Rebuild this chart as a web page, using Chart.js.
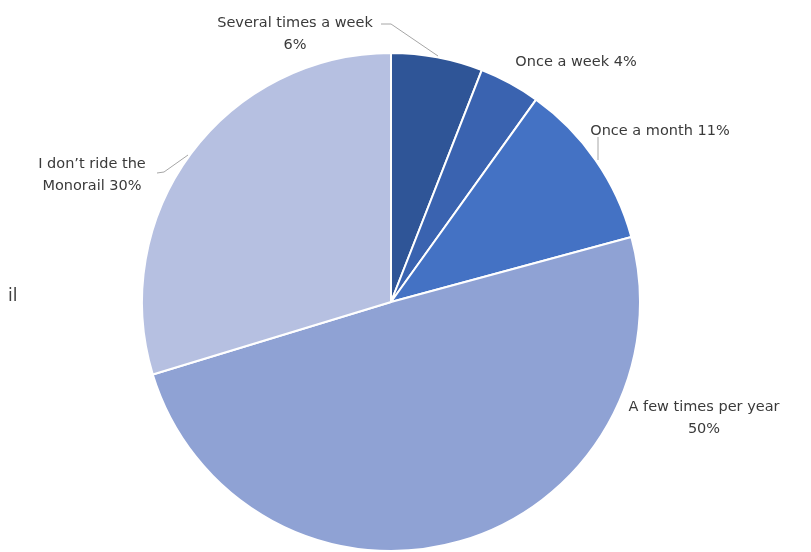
<!DOCTYPE html>
<html>
<head>
<meta charset="utf-8">
<script src="https://cdn.jsdelivr.net/npm/chart.js@4.4.1/dist/chart.umd.min.js"></script>
<style>
  html, body { margin: 0; padding: 0; background: #ffffff; }
  #wrap { position: relative; width: 811px; height: 552px; }
  #stray { position: absolute; left: 8px; top: 285px; font: 17px "DejaVu Sans", sans-serif; color: #404040; }
</style>
</head>
<body>
<div id="wrap">
  <canvas id="c" width="811" height="552"></canvas>
  <div id="stray">il</div>
</div>
<script>
const categories = ["Several times a week", "Once a week", "Once a month", "A few times per year", "I don\u2019t ride the Monorail"];
const values = [6, 4, 11, 50, 30];
const labelLines = [
  ["Several times a week", "6%"],
  ["Once a week 4%"],
  ["Once a month 11%"],
  ["A few times per year", "50%"],
  ["I don\u2019t ride the", "Monorail 30%"]
];
const colors = ["#2F5597", "#3A63B0", "#4472C4", "#8FA2D4", "#B6C0E1"];

// label placement relative to the pie centre (style, not data)
const labelPos = [
  { dx: -96, dy: -279 },
  { dx: 185, dy: -240 },
  { dx: 269, dy: -171 },
  { dx: 313, dy: 105 },
  { dx: -299, dy: -138 }
];
const leaders = [
  [[-10, -278], [0, -278], [47, -246]],
  null,
  [[207, -165], [207, -142]],
  null,
  [[-234, -129], [-227, -130], [-203, -147]]
];

const labelPlugin = {
  id: 'labels',
  afterDatasetsDraw(chart) {
    const ctx = chart.ctx;
    const arc = chart.getDatasetMeta(0).data[0];
    const cx = arc.x, cy = arc.y;
    ctx.save();
    ctx.strokeStyle = '#A6A6A6';
    ctx.lineWidth = 1;
    leaders.forEach(l => {
      if (!l) return;
      ctx.beginPath();
      l.forEach((p, i) => i ? ctx.lineTo(cx + p[0], cy + p[1]) : ctx.moveTo(cx + p[0], cy + p[1]));
      ctx.stroke();
    });
    ctx.fillStyle = '#3a3a3a';
    ctx.font = '14.5px "DejaVu Sans", sans-serif';
    ctx.textAlign = 'center';
    ctx.textBaseline = 'middle';
    labelLines.forEach((lines, i) => {
      const p = labelPos[i];
      lines.forEach((t, j) => ctx.fillText(t, cx + p.dx, cy + p.dy + j * 22));
    });
    ctx.restore();
  }
};

new Chart(document.getElementById('c'), {
  type: 'pie',
  data: {
    labels: categories,
    datasets: [{
      data: values,
      backgroundColor: colors,
      borderColor: '#ffffff',
      borderWidth: 2,
      hoverOffset: 0
    }]
  },
  options: {
    responsive: false,
    animation: false,
    layout: { padding: { top: 52, bottom: 0, left: 141, right: 170 } },
    plugins: { legend: { display: false }, tooltip: { enabled: false } }
  },
  plugins: [labelPlugin]
});
</script>
</body>
</html>
